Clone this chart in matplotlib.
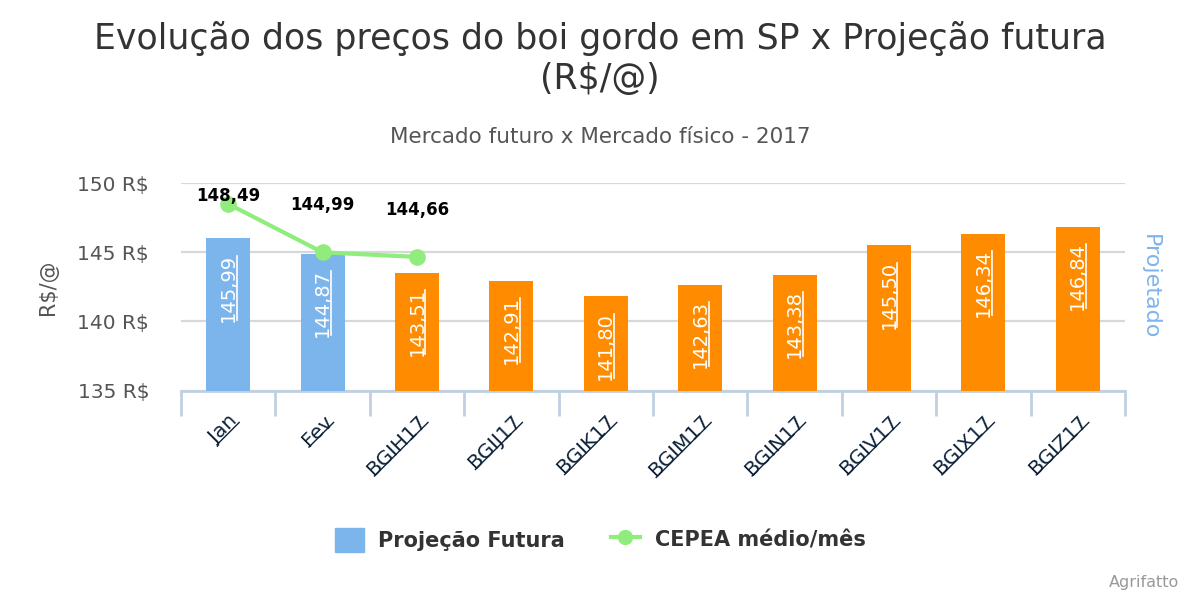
import matplotlib
matplotlib.use("Agg")
import matplotlib.pyplot as plt
from matplotlib.lines import Line2D
from matplotlib.patches import Patch
import numpy as np

plt.rcParams['font.family'] = ['DejaVu Sans']

categories = ['Jan', 'Fev', 'BGIH17', 'BGIJ17', 'BGIK17', 'BGIM17', 'BGIN17', 'BGIV17', 'BGIX17', 'BGIZ17']
projecao = [145.99, 144.87, 143.51, 142.91, 141.80, 142.63, 143.38, 145.50, 146.34, 146.84]
bar_colors = ['#7cb5ec', '#7cb5ec', '#ff8c00', '#ff8c00', '#ff8c00', '#ff8c00', '#ff8c00', '#ff8c00', '#ff8c00', '#ff8c00']
cepea = [148.49, 144.99, 144.66]
y_ticks = [135, 140, 145, 150]


def fmt(v):
    return '{:.2f}'.format(v).replace('.', ',')


fig = plt.figure(figsize=(12, 6), dpi=100)
ax = fig.add_axes([0.1508, 0.349, 0.9375 - 0.1508, 0.346])

x = np.arange(len(categories))
bars = ax.bar(x, [v - 135 for v in projecao], bottom=135, width=0.466, color=bar_colors, zorder=3)
ax.set_xlim(-0.5, len(categories) - 0.5)
ax.set_ylim(135, 150)
ax.set_yticks(y_ticks)
ax.set_yticklabels(['{} R$'.format(t) for t in y_ticks], fontsize=14.5, color='#555555')
ax.tick_params(axis='y', length=0, pad=23)
ax.grid(axis='y', color='#d8d8d8', linewidth=1.6, zorder=0)
for s in ['top', 'right', 'left']:
    ax.spines[s].set_visible(False)
ax.spines['bottom'].set_color('#c0d0e0')
ax.spines['bottom'].set_linewidth(2)

# tick marks at category boundaries
ax.set_xticks(np.arange(len(categories) + 1) - 0.5, minor=True)
ax.tick_params(axis='x', which='minor', length=18, width=2, color='#c0d0e0')
ax.set_xticks(x)
ax.set_xticklabels(categories, rotation=45, ha='right', rotation_mode='anchor',
                   fontsize=14.5, color='#0d233a')
ax.tick_params(axis='x', which='major', length=0, pad=15)

ax.set_ylabel('R$/@', fontsize=15, color='#555555', labelpad=14)

# line
ax.plot(x[:len(cepea)], cepea, color='#90ed7d', linewidth=3, marker='o', markersize=11, zorder=5)
for i, v in enumerate(cepea):
    ly = min(v + 3.4, 149.05)
    ax.text(i, ly, fmt(v), ha='center', va='center', fontsize=12, fontweight='bold',
            color='black', zorder=6)

# bar labels
bar_texts = []
for i, v in enumerate(projecao):
    t = ax.annotate(fmt(v), (i, v), xytext=(0, -11), textcoords='offset points',
                    rotation=90, ha='center', va='top', fontsize=14, color='white', zorder=6)
    bar_texts.append(t)

# titles
fig.text(0.5, 0.935, 'Evolução dos preços do boi gordo em SP x Projeção futura', ha='center', va='center',
         fontsize=25, color='#333333')
fig.text(0.5, 0.868, '(R$/@)', ha='center', va='center', fontsize=25, color='#333333')
fig.text(0.5, 0.772, 'Mercado futuro x Mercado físico - 2017', ha='center', va='center',
         fontsize=15.5, color='#555555')
fig.text(0.9585, 0.522, 'Projetado', rotation=270, ha='center', va='center', fontsize=16, color='#7cb5ec')
fig.text(0.983, 0.03, 'Agrifatto', ha='right', va='center', fontsize=11.5, color='#999999')

handles = [Patch(color='#7cb5ec', label='Projeção Futura'),
           Line2D([0], [0], color='#90ed7d', linewidth=3, marker='o', markersize=10, label='CEPEA médio/mês')]
leg = fig.legend(handles=handles, loc='center', bbox_to_anchor=(0.5, 0.1), ncol=2, frameon=False,
                 prop={'size': 15, 'weight': 'bold'}, handlelength=1.4, handleheight=1.4,
                 handletextpad=0.7, columnspacing=2.2)
for t in leg.get_texts():
    t.set_color('#333333')

# underlines
fig.canvas.draw()
renderer = fig.canvas.get_renderer()
W, H = fig.bbox.width, fig.bbox.height
for t in bar_texts:
    bb = t.get_window_extent(renderer)
    xl = bb.x1 - 1
    fig.add_artist(Line2D([xl / W, xl / W], [(bb.y0 + 2) / H, (bb.y1 - 2) / H], color='white', linewidth=1.2))

for t in ax.get_xticklabels():
    bb = t.get_window_extent(renderer)
    t.set_rotation(0)
    bb0 = t.get_window_extent(renderer)
    t.set_rotation(45)
    h = bb0.height
    c = s = np.sqrt(0.5)
    d = h * 0.18
    xa, ya = bb.x0 + h * s - d * s, bb.y0 + d * c
    xb, yb = bb.x1 - d * s, bb.y1 - h * c + d * c
    fig.add_artist(Line2D([xa / W, xb / W], [ya / H, yb / H], color='#0d233a', linewidth=1))

fig.savefig('out.png', dpi=100)
